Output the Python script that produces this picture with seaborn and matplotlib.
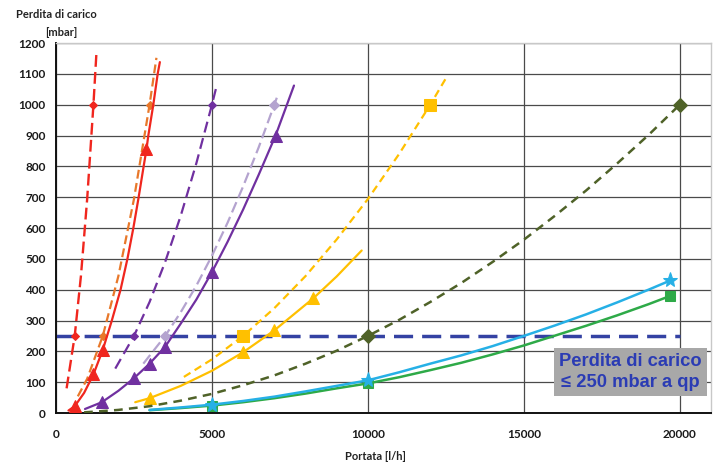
import matplotlib
matplotlib.use("Agg")
import matplotlib.pyplot as plt
from matplotlib.ticker import MultipleLocator
import seaborn as sns
import pandas as pd

# ---- data ----
red_dash_q = [340, 600, 800, 1000, 1200, 1300]
red_dash_p = [80, 250, 445, 695, 1000, 1174]
red_dash_mk = [1, 4]

orange_q = [700, 1000, 1500, 2000, 2500, 3000, 3220]
orange_p = [54, 111, 250, 444, 694, 1000, 1152]
orange_mk = [2, 5]

red_q = [400, 600, 900, 1200, 1500, 1790, 2070, 2290, 2480, 2650, 2810, 2900, 2960, 3120, 3260, 3330]
red_p = [8, 22, 65, 125, 205, 300, 400, 500, 600, 700, 800, 855, 900, 1000, 1100, 1138]
red_mk = [1, 3, 4, 11]

purple_dash_q = [1900, 2500, 3000, 3500, 4000, 4500, 5000, 5150]
purple_dash_p = [144, 250, 360, 490, 640, 810, 1000, 1061]
purple_dash_mk = [1, 6]

lavender_q = [2800, 3500, 4000, 4500, 5000, 5500, 6000, 6500, 7000, 7130]
lavender_p = [160, 250, 327, 413, 510, 617, 735, 862, 1000, 1037]
lavender_mk = [1, 8]

purple_q = [930, 1470, 2000, 2490, 3000, 3500, 4000, 4500, 5005, 5500, 6000, 6500, 7040, 7630]
purple_p = [13, 35, 72, 112, 160, 215, 290, 368, 458, 555, 660, 773, 900, 1062]
purple_mk = [1, 3, 4, 5, 8, 12]

yellow_dash_q = [4100, 5000, 6000, 7000, 8000, 9000, 10000, 11000, 12000, 12550]
yellow_dash_p = [117, 174, 250, 340, 444, 563, 694, 840, 1000, 1094]
yellow_dash_mk = [2, 8]

yellow_q = [2540, 3000, 4000, 5000, 6000, 7000, 8250, 9000, 9800]
yellow_p = [35, 48, 88, 137, 197, 268, 372, 443, 527]
yellow_mk = [1, 4, 5, 6]

olive_q = [900, 2000, 3000, 4000, 5000, 6000, 7000, 8000, 9000, 10000,
           11000, 12000, 13000, 14000, 15000, 16000, 17000, 18000, 19000, 20000]
olive_p = [2, 10, 22, 40, 62, 90, 122, 160, 202, 250,
           302, 360, 422, 490, 562, 640, 722, 810, 902, 1000]
olive_mk = [9, 19]

green_q = [3000, 4000, 5000, 6000, 7000, 8000, 9000, 10000, 11000, 12000,
           13000, 14000, 15000, 16000, 17000, 18000, 19000, 19700]
green_p = [9, 16, 24, 35, 48, 63, 80, 96, 116, 139,
           163, 190, 219, 251, 283, 317, 353, 380]
green_mk = [2, 7, 17]

cyan_q = [3000, 4000, 5000, 6000, 7000, 8000, 9000, 10000, 11000, 12000,
          13000, 14000, 15000, 16000, 17000, 18000, 19000, 19700]
cyan_p = [10, 18, 27, 39, 53, 70, 88, 106, 132, 160,
          187, 217, 250, 284, 320, 359, 400, 430]
cyan_mk = [2, 7, 17]

limit_q = [0, 20000]
limit_p = [250, 250]

x_ticks = [0, 5000, 10000, 15000, 20000]
y_ticks = list(range(0, 1300, 100))

# ---- figure ----
sns.set_style("white")
plt.rcParams['font.family'] = ['Lato', 'DejaVu Sans']

fig = plt.figure(figsize=(7.16, 4.66), dpi=100)
ax = fig.add_axes([56/716, 1 - 413/466, (711-56)/716, (413-43)/466])

def series(q, p, color, ls, lw, marker, ms, mk, z=3):
    df = pd.DataFrame({"q": q, "p": p})
    sns.lineplot(data=df, x="q", y="p", ax=ax, color=color, linestyle=ls,
                 linewidth=lw, marker=marker, markersize=ms, markevery=mk,
                 markeredgecolor=color, markerfacecolor=color,
                 sort=False, estimator=None, zorder=z)

# limit line
series(limit_q, limit_p, '#3442a3', (0, (5.5, 2.6)), 2.5, None, 0, None, z=2.5)

series(red_dash_q, red_dash_p, '#f0261e', (0, (5, 2.2)), 1.7, 'D', 4, red_dash_mk)
series(orange_q, orange_p, '#e8782a', (0, (4, 2)), 1.6, 'D', 4, orange_mk)
series(red_q, red_p, '#f0261e', '-', 1.6, '^', 8, red_mk)
series(purple_dash_q, purple_dash_p, '#7030a0', (0, (5, 2.6)), 1.6, 'D', 4, purple_dash_mk)
series(lavender_q, lavender_p, '#b4a3cf', (0, (5, 2.2)), 1.6, 'D', 5, lavender_mk)
series(purple_q, purple_p, '#7030a0', '-', 1.6, '^', 9, purple_mk)
series(yellow_dash_q, yellow_dash_p, '#ffc000', (0, (3.5, 2.2)), 1.6, 's', 9, yellow_dash_mk)
series(yellow_q, yellow_p, '#ffc000', '-', 1.6, '^', 9, yellow_mk)
series(olive_q, olive_p, '#4f6228', (0, (3.5, 2.5)), 1.8, 'D', 7, olive_mk)
series(green_q, green_p, '#2eaa48', '-', 1.8, 's', 7, green_mk)
series(cyan_q, cyan_p, '#26b0e6', '-', 1.8, '*', 11, cyan_mk)

ax.set_xlim(0, 21000)
ax.set_ylim(0, 1200)
ax.set_xticks(x_ticks)
ax.set_yticks(y_ticks)
ax.xaxis.set_minor_locator(MultipleLocator(500))
ax.yaxis.set_minor_locator(MultipleLocator(50))
ax.grid(True, which='major', color='#4a4a4a', linewidth=0.9, zorder=0)
ax.set_axisbelow(True)
ax.tick_params(axis='both', which='major', direction='inout', length=7, width=1.2,
               colors='#1a1a1a', labelsize=8.5)
ax.tick_params(axis='both', which='minor', direction='inout', length=5, width=1.0,
               colors='#1a1a1a')
for lab in ax.get_xticklabels() + ax.get_yticklabels():
    lab.set_fontweight('bold')
ax.tick_params(axis='x', pad=8)
ax.tick_params(axis='y', pad=4)

for s in ['left', 'bottom']:
    ax.spines[s].set_color('#111111')
    ax.spines[s].set_linewidth(1.4)
for s in ['top', 'right']:
    ax.spines[s].set_color('#c8c8c8')
    ax.spines[s].set_linewidth(1.0)

ax.set_xlabel('')
ax.set_ylabel('')

fig.text(16/716, 1 - 15/466, 'Perdita di carico', fontsize=8, fontweight='bold',
         color='#222222', ha='left', va='center')
fig.text(45/716, 1 - 33/466, '[mbar]', fontsize=8, fontweight='bold',
         color='#222222', ha='left', va='center')
fig.text(375/716, 1 - 457/466, 'Portata [l/h]', fontsize=8, fontweight='bold',
         color='#222222', ha='center', va='center')

ax.text(18420, 133, 'Perdita di carico\n≤ 250 mbar a qp', ha='center', va='center',
        fontsize=13.2, fontweight='bold', color='#2b3cb4', linespacing=1.25,
        family=['Liberation Sans', 'DejaVu Sans'], clip_on=False, zorder=6,
        bbox=dict(boxstyle='square,pad=0.28', facecolor='#a8a8a8', edgecolor='none'))

fig.savefig('out.png', dpi=100, facecolor='white')
